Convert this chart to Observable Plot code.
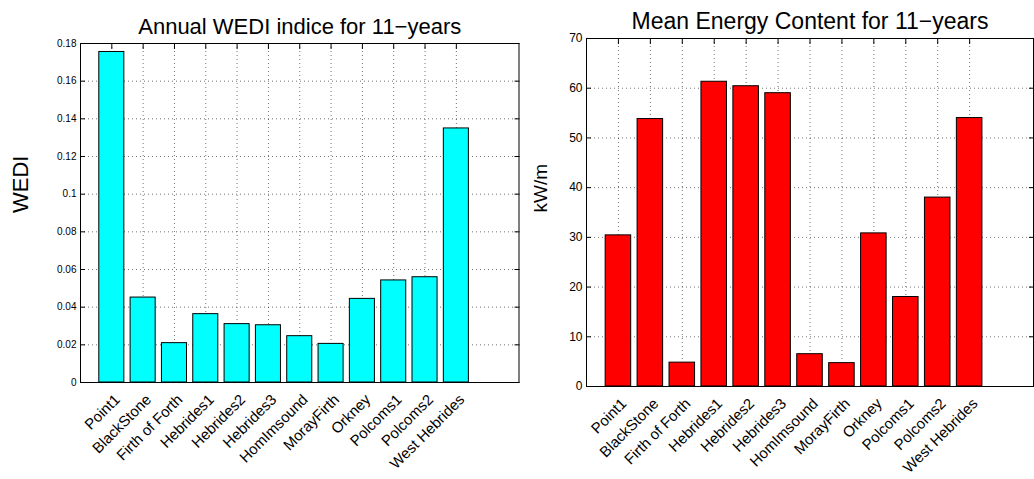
<!DOCTYPE html>
<html>
<head>
<meta charset="utf-8">
<script src="https://cdn.jsdelivr.net/npm/d3@7"></script>
<script src="https://cdn.jsdelivr.net/npm/@observablehq/plot@0.6"></script>
<style>
  html, body { margin: 0; padding: 0; background: #fff; }
  #wrap { position: relative; width: 1034px; height: 479px; overflow: hidden; background: #fff; }
  #left, #right { position: absolute; top: 0; }
  #left { left: 0; }
  #right { left: 520px; }
</style>
</head>
<body>
<div id="wrap"><div id="left"></div><div id="right"></div></div>
<script>
const sites = ["Point1", "BlackStone", "Firth of Forth", "Hebrides1", "Hebrides2", "Hebrides3",
  "HomImsound", "MorayFirth", "Orkney", "Polcoms1", "Polcoms2", "West Hebrides"];
const wedi = [0.1755, 0.0451, 0.0209, 0.0363, 0.0310, 0.0304, 0.0246, 0.0205, 0.0444, 0.0542, 0.0559, 0.1349];
const energy = [30.4, 53.8, 4.8, 61.3, 60.4, 59.0, 6.5, 4.7, 30.8, 18.0, 38.0, 54.0];
const wediTicks = [0, 0.02, 0.04, 0.06, 0.08, 0.1, 0.12, 0.14, 0.16, 0.18];
const energyTicks = [0, 10, 20, 30, 40, 50, 60, 70];
const leftTitle = "Annual WEDI indice for 11\u2212years";
const rightTitle = "Mean Energy Content for 11\u2212years";
const leftLabel = "WEDI";
const rightLabel = "kW/m";

const FONT = "'Liberation Sans', Arial, Helvetica, sans-serif";
const positions = sites.map((d, i) => i + 1);

function panel({values, yTicks, yMax, fill, title, titleSize, ylabel, width, mL, mR, mT, mB, tickFont, ylabelDx, ylabelSize, fmt}) {
  const data = sites.map((s, i) => ({site: s, pos: i + 1, value: values[i]}));
  return Plot.plot({
    width, height: 479,
    marginLeft: mL, marginRight: mR, marginTop: mT, marginBottom: mB,
    style: {fontFamily: FONT, fontSize: "10px", background: "white", overflow: "visible", color: "black"},
    x: {domain: [0, 14]},
    y: {domain: [0, yMax]},
    marks: [
      Plot.gridY(yTicks, {stroke: "#000", strokeOpacity: 0.55, strokeDasharray: "1,3"}),
      Plot.gridX(positions, {stroke: "#000", strokeOpacity: 0.55, strokeDasharray: "1,3"}),
      Plot.rectY(data, {x1: d => d.pos - 0.4, x2: d => d.pos + 0.4, y1: 0, y2: "value", fill, stroke: "#000", strokeWidth: 1}),
      Plot.frame({stroke: "#000", strokeWidth: 1}),
      Plot.axisY(yTicks, {anchor: "left", tickSize: -5, tickPadding: 9, tickFormat: fmt, label: null, fontSize: tickFont, stroke: "#000"}),
      Plot.axisY(yTicks, {anchor: "right", tickSize: -5, tickFormat: () => "", label: null, stroke: "#000"}),
      Plot.axisX(positions, {anchor: "top", tickSize: -5, tickFormat: () => "", label: null, stroke: "#000"}),
      Plot.text(data, {x: "pos", text: "site", frameAnchor: "bottom", dx: 9, dy: 18, rotate: -45, textAnchor: "end", fontSize: 15, fill: "#000"}),
      Plot.text([title], {frameAnchor: "top", dy: -10, lineAnchor: "bottom", fontSize: titleSize, fill: "#000"}),
      Plot.text([ylabel], {frameAnchor: "left", dx: ylabelDx, rotate: -90, fontSize: ylabelSize, fill: "#000"})
    ]
  });
}

document.getElementById("left").append(panel({
  values: wedi, yTicks: wediTicks, yMax: 0.18, fill: "#00FFFF", title: leftTitle, titleSize: 22, ylabel: leftLabel,
  width: 520, mL: 80, mR: 1.5, mT: 43, mB: 97, tickFont: 10, ylabelDx: -60, ylabelSize: 22,
  fmt: d => String(+d.toFixed(2))
}));
document.getElementById("right").append(panel({
  values: energy, yTicks: energyTicks, yMax: 70, fill: "#FF0000", title: rightTitle, titleSize: 23, ylabel: rightLabel,
  width: 514, mL: 66, mR: 1, mT: 38, mB: 93, tickFont: 12, ylabelDx: -46, ylabelSize: 19,
  fmt: d => String(d)
}));
</script>
</body>
</html>
